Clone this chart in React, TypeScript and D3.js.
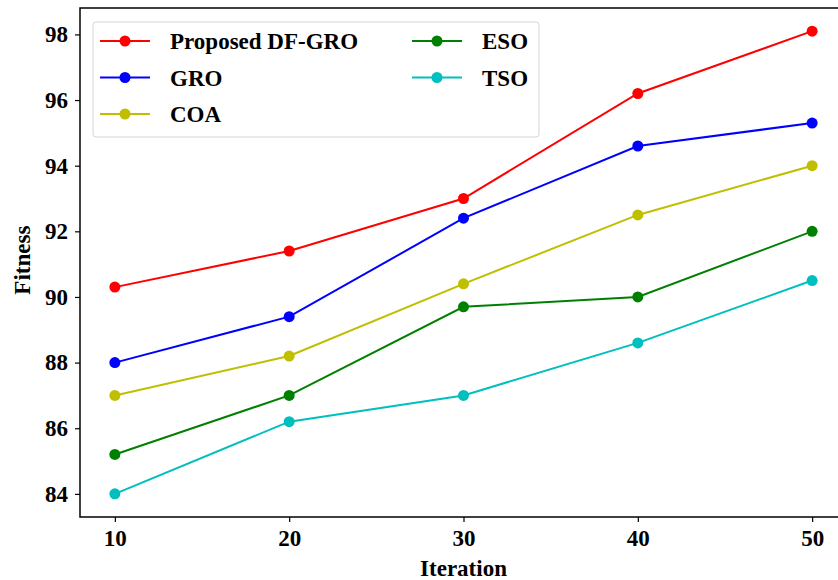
import { useEffect, useRef } from "react";
import * as d3 from "d3";

const iterations = [10, 20, 30, 40, 50];
const seriesNames = ["Proposed DF-GRO", "GRO", "COA", "ESO", "TSO"];
const seriesColors = ["#ff0000", "#0000ff", "#bfbf00", "#008000", "#00bfbf"];
const dfgro = [90.3, 91.4, 93.0, 96.2, 98.1];
const gro = [88.0, 89.4, 92.4, 94.6, 95.3];
const coa = [87.0, 88.2, 90.4, 92.5, 94.0];
const eso = [85.2, 87.0, 89.7, 90.0, 92.0];
const tso = [84.0, 86.2, 87.0, 88.6, 90.5];
const yTicks = [84, 86, 88, 90, 92, 94, 96, 98];

const W = 838;
const H = 580;
const font = "'Liberation Serif', 'Times New Roman', serif";
const fs = 23;

const App = () => {
  const svgRef = useRef<SVGSVGElement>(null);

  useEffect(() => {
    const svg = d3.select(svgRef.current);
    svg.selectAll("*").remove();

    const margin = { top: 8, right: -9, bottom: 63, left: 80 };
    const allValues = [dfgro, gro, coa, eso, tso];
    const lo = d3.min(allValues.flat()) as number;
    const hi = d3.max(allValues.flat()) as number;
    const pad = (hi - lo) * 0.05;

    const xScale = d3
      .scaleLinear()
      .domain([8, 52])
      .range([margin.left, W - margin.right]);
    const yScale = d3
      .scaleLinear()
      .domain([lo - pad, hi + pad])
      .range([H - margin.bottom, margin.top]);

    // X axis
    const gx = svg
      .append("g")
      .attr("transform", `translate(0, ${H - margin.bottom})`)
      .call(d3.axisBottom(xScale).tickValues(iterations).tickSize(5).tickPadding(8));
    gx.select(".domain").remove();
    gx.selectAll("line").attr("stroke", "#000").attr("stroke-width", 1.2);
    gx.selectAll("text")
      .attr("font-family", font)
      .attr("font-weight", "bold")
      .attr("font-size", fs)
      .attr("fill", "#000");

    // Y axis
    const gy = svg
      .append("g")
      .attr("transform", `translate(${margin.left}, 0)`)
      .call(d3.axisLeft(yScale).tickValues(yTicks).tickSize(5).tickPadding(7));
    gy.select(".domain").remove();
    gy.selectAll("line").attr("stroke", "#000").attr("stroke-width", 1.2);
    gy.selectAll("text")
      .attr("font-family", font)
      .attr("font-weight", "bold")
      .attr("font-size", fs)
      .attr("fill", "#000");

    // frame
    svg
      .append("rect")
      .attr("x", margin.left)
      .attr("y", margin.top)
      .attr("width", W - margin.right - margin.left)
      .attr("height", H - margin.bottom - margin.top)
      .attr("fill", "none")
      .attr("stroke", "#000")
      .attr("stroke-width", 1.5);

    // axis labels
    svg
      .append("text")
      .attr("x", (margin.left + W - margin.right) / 2)
      .attr("y", 576)
      .attr("text-anchor", "middle")
      .attr("font-family", font)
      .attr("font-weight", "bold")
      .attr("font-size", fs)
      .text("Iteration");

    svg
      .append("text")
      .attr("transform", "rotate(-90)")
      .attr("x", -yScale(91) + 4)
      .attr("y", 30)
      .attr("text-anchor", "middle")
      .attr("font-family", font)
      .attr("font-weight", "bold")
      .attr("font-size", fs)
      .text("Fitness");

    const line = d3
      .line<number>()
      .x((d, i) => xScale(iterations[i]))
      .y((d) => yScale(d));

    allValues.forEach((vals, s) => {
      svg
        .append("path")
        .datum(vals)
        .attr("d", line)
        .attr("fill", "none")
        .attr("stroke", seriesColors[s])
        .attr("stroke-width", 2);
      svg
        .selectAll(`.pt${s}`)
        .data(vals)
        .enter()
        .append("circle")
        .attr("cx", (d, i) => xScale(iterations[i]))
        .attr("cy", (d) => yScale(d))
        .attr("r", 5.5)
        .attr("fill", seriesColors[s]);
    });

    // Legend
    const legend = svg.append("g");
    legend
      .append("rect")
      .attr("x", 93)
      .attr("y", 22)
      .attr("width", 446)
      .attr("height", 115)
      .attr("rx", 3)
      .attr("fill", "#fff")
      .attr("fill-opacity", 0.8)
      .attr("stroke", "#d6d6d6");

    seriesNames.forEach((name, s) => {
      const col = s < 3 ? 0 : 1;
      const row = s < 3 ? s : s - 3;
      const x0 = col === 0 ? 100 : 412;
      const y0 = 41 + row * 36.5;
      const g = legend.append("g");
      g.append("line")
        .attr("x1", x0)
        .attr("x2", x0 + 50)
        .attr("y1", y0)
        .attr("y2", y0)
        .attr("stroke", seriesColors[s])
        .attr("stroke-width", 2);
      g.append("circle")
        .attr("cx", x0 + 25)
        .attr("cy", y0)
        .attr("r", 5.5)
        .attr("fill", seriesColors[s]);
      g.append("text")
        .attr("x", x0 + 70)
        .attr("y", y0)
        .attr("dy", "0.35em")
        .attr("font-family", font)
        .attr("font-weight", "bold")
        .attr("font-size", fs)
        .text(name);
    });
  }, []);

  return (
    <svg
      ref={svgRef}
      width={W}
      height={H}
      style={{ position: "absolute", left: 0, top: 0, background: "#fff" }}
    ></svg>
  );
};

export default App;
